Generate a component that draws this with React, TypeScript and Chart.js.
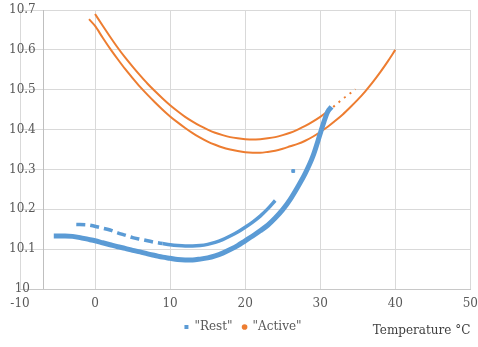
import React, { useEffect, useRef } from 'react';
import { Chart, registerables } from 'chart.js';

Chart.register(...registerables);

const BLUE = '#5B9BD5';
const ORANGE = '#ED7D31';
const FONT = { family: '"DejaVu Serif", serif', size: 12 };

// Series labels and axis text
const seriesLabels = ['"Rest"', '"Active"'];
const xTitle = 'Temperature °C';

// Tick values
const xTicks = [-10, 0, 10, 20, 30, 40, 50];
const yTicks = [10, 10.1, 10.2, 10.3, 10.4, 10.5, 10.6, 10.7];
const yAxisCrossAt = -7;

// "Rest" – lower branch
const restLowerT = [-5.5, -4, -3, -2, -1, 0, 1, 2, 3, 4, 5, 6, 7, 8, 9, 10, 11, 12, 13, 14, 15, 16, 17, 18, 19, 20, 21, 22, 23, 24, 25, 26, 27, 28, 29, 30, 30.5, 31, 31.5];
const restLowerV = [10.133, 10.133, 10.132, 10.129, 10.125, 10.121, 10.116, 10.111, 10.106, 10.102, 10.097, 10.093, 10.088, 10.084, 10.080, 10.077, 10.074, 10.073, 10.073, 10.075, 10.078, 10.083, 10.090, 10.099, 10.109, 10.121, 10.133, 10.146, 10.160, 10.178, 10.199, 10.225, 10.256, 10.290, 10.332, 10.390, 10.420, 10.445, 10.457];

// "Rest" – upper branch
const restUpperT = [-2.5, -1, 0.7, 2, 3, 4, 5, 6, 7, 8, 9, 10, 11, 12, 13, 14, 15, 16, 17, 18, 19, 20, 21, 22, 23, 24];
const restUpperV = [10.162, 10.161, 10.154, 10.148, 10.141, 10.135, 10.129, 10.125, 10.121, 10.117, 10.114, 10.111, 10.109, 10.108, 10.108, 10.109, 10.112, 10.117, 10.124, 10.133, 10.143, 10.155, 10.168, 10.183, 10.201, 10.222];

// "Rest" – isolated point
const restExtraT = [26.4];
const restExtraV = [10.296];

// "Active" – upper branch
const activeUpperT = [0, 1, 2, 3, 4, 5, 6, 7, 8, 9, 10, 11, 12, 13, 14, 15, 16, 17, 18, 19, 20, 21, 22, 23, 24, 25, 26, 27, 28, 29, 30, 31, 32, 33, 34, 34.7];
const activeUpperV = [10.690, 10.661, 10.633, 10.606, 10.581, 10.558, 10.536, 10.515, 10.496, 10.478, 10.461, 10.446, 10.432, 10.420, 10.409, 10.400, 10.392, 10.386, 10.381, 10.378, 10.376, 10.375, 10.376, 10.378, 10.381, 10.386, 10.392, 10.400, 10.409, 10.420, 10.432, 10.446, 10.461, 10.477, 10.491, 10.501];

// "Active" – lower branch
const activeLowerT = [-0.8, 0, 1, 2, 3, 4, 5, 6, 7, 8, 9, 10, 11, 12, 13, 14, 15, 16, 17, 18, 19, 20, 21, 22, 23, 24, 25, 26, 27, 28, 29, 30, 31, 32, 33, 34, 35, 36, 37, 38, 39, 40];
const activeLowerV = [10.677, 10.660, 10.631, 10.603, 10.577, 10.552, 10.529, 10.507, 10.487, 10.468, 10.450, 10.433, 10.418, 10.404, 10.391, 10.380, 10.370, 10.362, 10.355, 10.350, 10.346, 10.343, 10.342, 10.342, 10.344, 10.347, 10.352, 10.358, 10.364, 10.372, 10.382, 10.394, 10.407, 10.422, 10.438, 10.456, 10.475, 10.496, 10.519, 10.544, 10.571, 10.600];

const toPoints = (t: number[], v: number[]) => t.map((x, i) => ({ x, y: v[i] }));

const axisLinePlugin = {
  id: 'axisLine',
  beforeDatasetsDraw(chart: any) {
    const { ctx, chartArea, scales } = chart;
    const x = Math.round(scales.x.getPixelForValue(yAxisCrossAt)) + 0.5;
    ctx.save();
    ctx.strokeStyle = '#BFBFBF';
    ctx.lineWidth = 1;
    ctx.beginPath();
    ctx.moveTo(x, chartArea.top);
    ctx.lineTo(x, chartArea.bottom);
    ctx.stroke();
    ctx.restore();
  },
};

const legendShiftPlugin = {
  id: 'legendShift',
  afterLayout(chart: any) {
    if (chart.legend) chart.legend.left += 12;
  },
};

export default function App() {
  const ref = useRef<HTMLCanvasElement | null>(null);

  useEffect(() => {
    if (!ref.current) return;
    const chart = new Chart(ref.current, {
      type: 'scatter',
      data: {
        datasets: [
          {
            label: seriesLabels[0],
            data: toPoints(restLowerT, restLowerV),
            showLine: true,
            borderColor: BLUE,
            backgroundColor: BLUE,
            borderWidth: 5,
            pointRadius: 0,
            cubicInterpolationMode: 'monotone',
            pointStyle: 'rect',
          },
          {
            label: seriesLabels[0],
            data: toPoints(restUpperT, restUpperV),
            showLine: true,
            borderColor: BLUE,
            backgroundColor: BLUE,
            borderWidth: 3.5,
            pointRadius: 0,
            cubicInterpolationMode: 'monotone',
            pointStyle: 'rect',
            segment: {
              borderDash: (ctx: any) => (ctx.p1.parsed.x <= 9 ? [9, 5] : undefined),
            },
          },
          {
            label: seriesLabels[0],
            data: toPoints(restExtraT, restExtraV),
            showLine: false,
            borderColor: BLUE,
            backgroundColor: BLUE,
            pointRadius: 2,
            pointStyle: 'rect',
          },
          {
            label: seriesLabels[1],
            data: toPoints(activeUpperT, activeUpperV),
            showLine: true,
            borderColor: ORANGE,
            backgroundColor: ORANGE,
            borderWidth: 2,
            pointRadius: 0,
            cubicInterpolationMode: 'monotone',
            pointStyle: 'circle',
            segment: {
              borderDash: (ctx: any) => (ctx.p0.parsed.x >= 30.5 ? [2, 5] : undefined),
            },
          },
          {
            label: seriesLabels[1],
            data: toPoints(activeLowerT, activeLowerV),
            showLine: true,
            borderColor: ORANGE,
            backgroundColor: ORANGE,
            borderWidth: 2,
            pointRadius: 0,
            cubicInterpolationMode: 'monotone',
            pointStyle: 'circle',
          },
        ],
      },
      options: {
        animation: false,
        responsive: true,
        maintainAspectRatio: false,
        layout: { padding: { top: 10, right: 4, bottom: 4, left: 0 } },
        plugins: {
          tooltip: { enabled: false },
          legend: {
            position: 'bottom',
            align: 'center',
            labels: {
              usePointStyle: true,
              boxWidth: 4,
              boxHeight: 4,
              padding: 10,
              color: '#595959',
              font: FONT,
              generateLabels: () => [
                { text: seriesLabels[0], fillStyle: BLUE, strokeStyle: BLUE, lineWidth: 0, pointStyle: 'rect', hidden: false, datasetIndex: 0, fontColor: '#595959' },
                { text: seriesLabels[1], fillStyle: ORANGE, strokeStyle: ORANGE, lineWidth: 0, pointStyle: 'circle', hidden: false, datasetIndex: 3, fontColor: '#595959' },
              ],
            },
            onClick: () => {},
          },
        },
        scales: {
          x: {
            type: 'linear',
            min: -10,
            max: 50,
            afterBuildTicks: (s: any) => {
              s.ticks = xTicks.map((v) => ({ value: v }));
            },
            afterFit: (s: any) => {
              s.height = 22;
            },
            grid: { color: '#D9D9D9', drawTicks: true, tickLength: 8, tickColor: 'rgba(0,0,0,0)' },
            border: { color: '#C8C8C8' },
            ticks: { padding: 0, color: '#595959', font: FONT, maxRotation: 0 },
            title: {
              display: true,
              text: xTitle,
              align: 'end',
              color: '#404040',
              font: FONT,
              padding: { top: 0, bottom: -27 },
            },
          },
          y: {
            type: 'linear',
            min: 10,
            max: 10.7,
            afterBuildTicks: (s: any) => {
              s.ticks = yTicks.map((v) => ({ value: v }));
            },
            afterFit: (s: any) => {
              s.width = 20;
            },
            grid: { color: '#D9D9D9', drawTicks: false },
            border: { display: false },
            ticks: {
              mirror: true,
              crossAlign: 'center',
              padding: -11,
              color: '#595959',
              font: FONT,
              callback: (v: any) => String(Math.round(Number(v) * 10) / 10),
            },
          },
        },
      },
      plugins: [axisLinePlugin, legendShiftPlugin],
    } as any);
    return () => chart.destroy();
  }, []);

  return (
    <div style={{ position: 'fixed', left: 0, top: 0, width: 478, height: 347, background: '#fff' }}>
      <canvas ref={ref} />
    </div>
  );
}
